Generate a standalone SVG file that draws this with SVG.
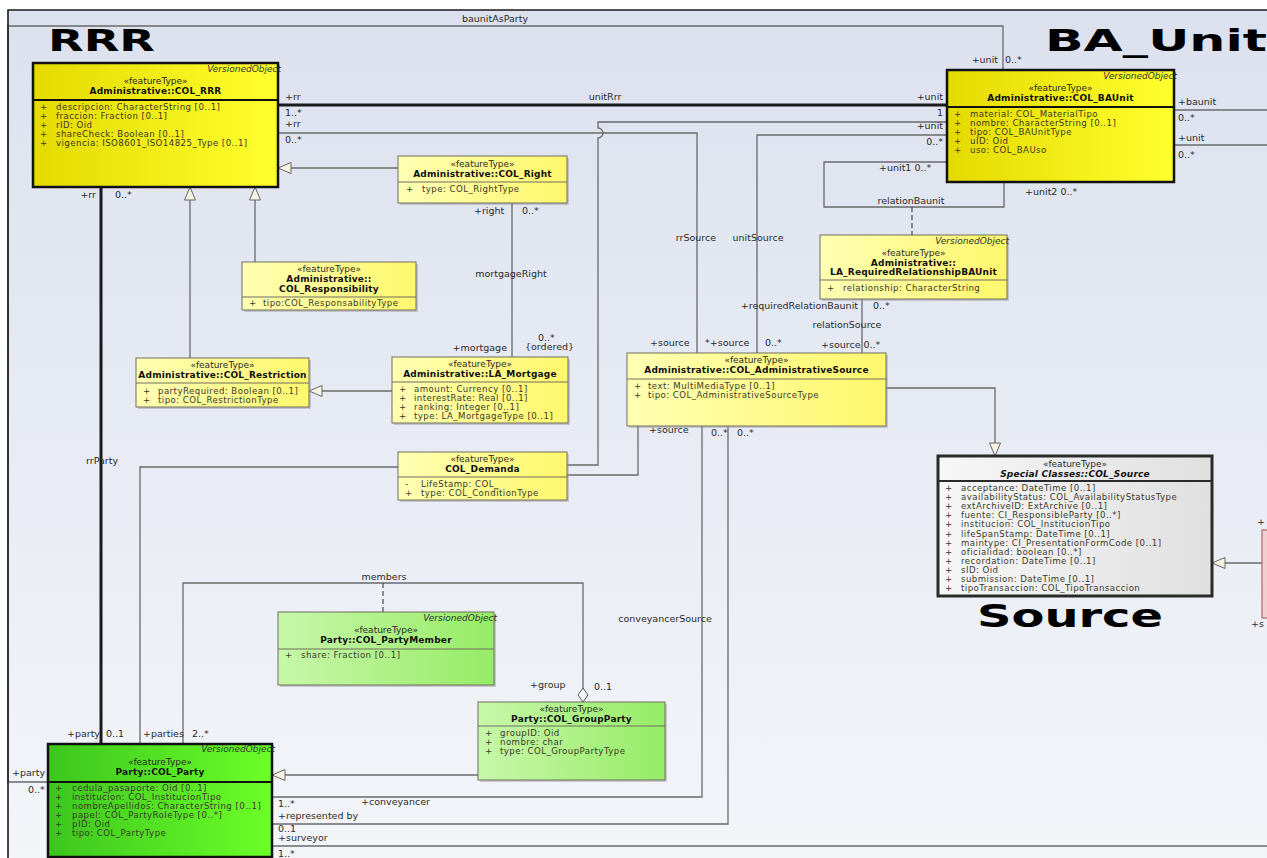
<svg xmlns="http://www.w3.org/2000/svg" width="1267" height="858" viewBox="0 0 1267 858">
<defs>
<linearGradient id="bg" x1="0" y1="0" x2="0" y2="1"><stop offset="0" stop-color="#dce1ee"/><stop offset="1" stop-color="#f3f5f9"/></linearGradient>
<linearGradient id="gY" x1="0" y1="0" x2="1" y2="0"><stop offset="0" stop-color="#e4da00"/><stop offset="1" stop-color="#ffff2e"/></linearGradient>
<linearGradient id="gLY" x1="0" y1="0" x2="1" y2="0"><stop offset="0" stop-color="#ffffb4"/><stop offset="1" stop-color="#fff76c"/></linearGradient>
<linearGradient id="gG" x1="0" y1="0" x2="1" y2="0"><stop offset="0" stop-color="#3cc61e"/><stop offset="1" stop-color="#6cff28"/></linearGradient>
<linearGradient id="gLG" x1="0" y1="0" x2="1" y2="0"><stop offset="0" stop-color="#c8f7aa"/><stop offset="1" stop-color="#96ec66"/></linearGradient>
<linearGradient id="gS" x1="0" y1="0" x2="1" y2="0"><stop offset="0" stop-color="#f7f7f7"/><stop offset="1" stop-color="#e0e0e0"/></linearGradient>
<marker id="gen" markerUnits="userSpaceOnUse" markerWidth="15" markerHeight="13" refX="14" refY="6.5" orient="auto"><path d="M1,1 L14,6.5 L1,12 Z" fill="#f6f2e2" stroke="#666" stroke-width="1"/></marker>
<marker id="agg" markerUnits="userSpaceOnUse" markerWidth="16" markerHeight="12" refX="15" refY="6" orient="auto"><path d="M1,6 L8,1 L15,6 L8,11 Z" fill="#f6f6f6" stroke="#555" stroke-width="1"/></marker>
<style>
.t{font-family:"DejaVu Sans","Liberation Sans",sans-serif;font-size:9.5px;fill:#2a2a2a}
.a{font-size:8.6px;letter-spacing:.45px;fill:#3a3a2a}
.b{font-weight:bold;font-size:9px;letter-spacing:.2px;fill:#111}
.s{font-size:9px}
.c{text-anchor:middle}
.e{text-anchor:end}
.vo{font-family:"DejaVu Sans","Liberation Sans",sans-serif;font-size:9px;font-style:italic;text-anchor:end;fill:#333}
.big{font-family:"DejaVu Sans","Liberation Sans",sans-serif;font-weight:bold;fill:#000}
.conn{fill:none;stroke:#6a6a6a;stroke-width:1.3}
.thick{fill:none;stroke:#1a1a1a;stroke-width:3}
.dash{fill:none;stroke:#555;stroke-width:1.3;stroke-dasharray:5,3}
.strong{stroke:#111;stroke-width:2.5}
.light{stroke:#6f6f5f;stroke-width:1}
.sh{fill:#9a9a9a;opacity:.45}
.divS{stroke:#111;stroke-width:2}
.divL{stroke:#6f6f5f;stroke-width:1}
</style>
</defs>

<rect x="0" y="0" width="1267" height="858" fill="#ffffff"/>
<rect x="8" y="10" width="1259" height="848" fill="url(#bg)"/>

<g id="titles">
<text class="big" x="48" y="51" font-size="30" textLength="107" lengthAdjust="spacingAndGlyphs">RRR</text>
<text class="big" x="1045" y="51" font-size="31" textLength="222" lengthAdjust="spacingAndGlyphs">BA_Unit</text>
<text class="big" x="977" y="627" font-size="32" textLength="186" lengthAdjust="spacingAndGlyphs">Source</text>
</g>

<g id="connectors">
<!-- baunitAsParty -->
<path class="conn" d="M1003,70 V26 H8 V782 H48"/>
<text class="t c" x="495" y="22">baunitAsParty</text>
<text class="t e" x="998" y="63">+unit</text>
<text class="t" x="1005" y="63">0..*</text>
<text class="t" x="12" y="776">+party</text>
<text class="t" x="28" y="793">0..*</text>

<!-- generalizations to RRR -->
<path class="conn" d="M398,168 H278" marker-end="url(#gen)"/>
<path class="conn" d="M255,262 V187" marker-end="url(#gen)"/>
<path class="conn" d="M190,358 V187" marker-end="url(#gen)"/>
<path class="conn" d="M392,391 H309" marker-end="url(#gen)"/>

<!-- mortgageRight -->
<path class="conn" d="M512,203 V357"/>
<text class="t" x="474" y="214">+right</text>
<text class="t" x="522" y="214">0..*</text>
<text class="t c" x="511" y="277">mortgageRight</text>
<text class="t e" x="507" y="351">+mortgage</text>
<text class="t" x="538" y="341">0..*</text>
<text class="t" x="525" y="350">{ordered}</text>

<!-- unitRrr -->
<path class="thick" d="M278,105 H947"/>
<text class="t c" x="605" y="100">unitRrr</text>
<text class="t" x="285" y="100">+rr</text>
<text class="t" x="285" y="116">1..*</text>
<text class="t e" x="943" y="100">+unit</text>
<text class="t e" x="943" y="116">1</text>

<!-- rrSource -->
<path class="conn" d="M278,133 H697 V353"/>
<text class="t" x="285" y="127">+rr</text>
<text class="t" x="285" y="143">0..*</text>
<text class="t c" x="696" y="241">rrSource</text>
<text class="t" x="650" y="346">+source</text>

<!-- Demanda to BAUnit -->
<path class="conn" d="M567,465 H598 V138 A5,5 0 0 0 598,128 V122 H947"/>
<text class="t e" x="943" y="129">+unit</text>

<!-- unitSource -->
<path class="conn" d="M947,135 H757 V353"/>
<text class="t e" x="943" y="145">0..*</text>
<text class="t c" x="758" y="241">unitSource</text>
<text class="t" x="705" y="346">*+source</text>
<text class="t" x="765" y="346">0..*</text>

<!-- relationBaunit -->
<path class="conn" d="M947,162 H824 V207 H1004 V182"/>
<path class="dash" d="M912,207 V235"/>
<text class="t" x="879" y="171">+unit1 0..*</text>
<text class="t" x="1025" y="195">+unit2 0..*</text>
<text class="t c" x="911" y="204">relationBaunit</text>

<!-- relationSource -->
<path class="conn" d="M862,299 V353"/>
<text class="t e" x="858" y="309">+requiredRelationBaunit</text>
<text class="t" x="873" y="309">0..*</text>
<text class="t c" x="847" y="328">relationSource</text>
<text class="t" x="821" y="348">+source 0..*</text>

<!-- AdministrativeSource generalization to COL_Source -->
<path class="conn" d="M886,388 H995 V456" marker-end="url(#gen)"/>

<!-- BAUnit right side -->
<path class="conn" d="M1174,110 H1267"/>
<path class="conn" d="M1174,145 H1267"/>
<text class="t" x="1178" y="105">+baunit</text>
<text class="t" x="1178" y="121">0..*</text>
<text class="t" x="1178" y="141">+unit</text>
<text class="t" x="1178" y="158">0..*</text>

<!-- Source to Demanda -->
<path class="conn" d="M638,426 V475 H567"/>
<text class="t" x="649" y="433">+source</text>
<text class="t" x="711" y="436">0..*</text>
<text class="t" x="737" y="436">0..*</text>

<!-- conveyancerSource -->
<path class="conn" d="M702,426 V797 H272"/>
<text class="t c" x="665" y="622">conveyancerSource</text>
<text class="t" x="278" y="807">1..*</text>
<text class="t" x="361" y="805">+conveyancer</text>

<!-- surveyor -->
<path class="conn" d="M728,426 V824 H272"/>
<text class="t" x="278" y="819">+represented by</text>
<text class="t" x="278" y="832">0..1</text>
<text class="t" x="278" y="841">+surveyor</text>

<path class="conn" d="M272,846 H1267"/>
<text class="t" x="278" y="857">1..*</text>

<!-- rrParty -->
<path class="thick" d="M101,187 V744"/>
<text class="t e" x="96" y="198">+rr</text>
<text class="t" x="115" y="198">0..*</text>
<text class="t c" x="102" y="464">rrParty</text>
<text class="t e" x="100" y="737">+party</text>
<text class="t" x="106" y="737">0..1</text>

<!-- Demanda to Party -->
<path class="conn" d="M398,467 H140 V744"/>

<!-- members -->
<path class="conn" d="M183,744 V583 H583 V702" marker-end="url(#agg)"/>
<path class="dash" d="M383,583 V612"/>
<text class="t c" x="384" y="580">members</text>
<text class="t" x="143" y="737">+parties</text>
<text class="t" x="192" y="737">2..*</text>
<text class="t" x="530" y="688">+group</text>
<text class="t" x="594" y="690">0..1</text>

<!-- GroupParty generalization -->
<path class="conn" d="M478,775 H272" marker-end="url(#gen)"/>

<!-- external box generalization to COL_Source -->
<path class="conn" d="M1262,563 H1212" marker-end="url(#gen)"/>
<text class="t" x="1257" y="525">+</text>
<text class="t" x="1251" y="627">+s</text>
</g>

<g id="col-rrr">
<rect x="33" y="63" width="245" height="124" class="strong" fill="url(#gY)"/>
<line x1="33" y1="100" x2="278" y2="100" class="divS"/>
<text class="vo" x="281" y="72">VersionedObject</text>
<text class="t s c" x="155.5" y="84">«featureType»</text>
<text class="t c b" x="155.5" y="94">Administrative::COL_RRR</text>
<text class="t a" x="40" y="110">+</text><text class="t a" x="56" y="110">descripcion: CharacterString [0..1]</text>
<text class="t a" x="40" y="119">+</text><text class="t a" x="56" y="119">fraccion: Fraction [0..1]</text>
<text class="t a" x="40" y="128">+</text><text class="t a" x="56" y="128">rID: Oid</text>
<text class="t a" x="40" y="137">+</text><text class="t a" x="56" y="137">shareCheck: Boolean [0..1]</text>
<text class="t a" x="40" y="146">+</text><text class="t a" x="56" y="146">vigencia: ISO8601_ISO14825_Type [0..1]</text>
</g>

<g id="col-baunit">
<rect x="947" y="70" width="227" height="112" class="strong" fill="url(#gY)"/>
<line x1="947" y1="107" x2="1174" y2="107" class="divS"/>
<text class="vo" x="1177" y="79">VersionedObject</text>
<text class="t s c" x="1060.5" y="91">«featureType»</text>
<text class="t c b" x="1060.5" y="101">Administrative::COL_BAUnit</text>
<text class="t a" x="954" y="117">+</text><text class="t a" x="970" y="117">material: COL_MaterialTipo</text>
<text class="t a" x="954" y="126">+</text><text class="t a" x="970" y="126">nombre: CharacterString [0..1]</text>
<text class="t a" x="954" y="135">+</text><text class="t a" x="970" y="135">tipo: COL_BAUnitType</text>
<text class="t a" x="954" y="144">+</text><text class="t a" x="970" y="144">uID: Oid</text>
<text class="t a" x="954" y="153">+</text><text class="t a" x="970" y="153">uso: COL_BAUso</text>
</g>

<g id="col-right">
<rect x="400" y="158" width="169" height="47" class="sh"/>
<rect x="398" y="156" width="169" height="47" class="light" fill="url(#gLY)"/>
<line x1="398" y1="182" x2="567" y2="182" class="divL"/>
<text class="t s c" x="482.5" y="167">«featureType»</text>
<text class="t c b" x="482.5" y="177">Administrative::COL_Right</text>
<text class="t a" x="406" y="192">+</text><text class="t a" x="422" y="192">type: COL_RightType</text>
</g>

<g id="col-responsibility">
<rect x="244" y="264" width="174" height="48" class="sh"/>
<rect x="242" y="262" width="174" height="48" class="light" fill="url(#gLY)"/>
<line x1="242" y1="297" x2="416" y2="297" class="divL"/>
<text class="t s c" x="329" y="272">«featureType»</text>
<text class="t c b" x="329" y="282">Administrative::</text>
<text class="t c b" x="329" y="292">COL_Responsibility</text>
<text class="t a" x="249" y="306">+</text><text class="t a" x="263" y="306">tipo:COL_ResponsabilityType</text>
</g>

<g id="col-restriction">
<rect x="138" y="360" width="173" height="49" class="sh"/>
<rect x="136" y="358" width="173" height="49" class="light" fill="url(#gLY)"/>
<line x1="136" y1="383" x2="309" y2="383" class="divL"/>
<text class="t s c" x="222.5" y="368">«featureType»</text>
<text class="t c b" x="222.5" y="378">Administrative::COL_Restriction</text>
<text class="t a" x="143" y="394">+</text><text class="t a" x="158" y="394">partyRequired: Boolean [0..1]</text>
<text class="t a" x="143" y="403">+</text><text class="t a" x="158" y="403">tipo: COL_RestrictionType</text>
</g>

<g id="la-mortgage">
<rect x="394" y="359" width="176" height="66" class="sh"/>
<rect x="392" y="357" width="176" height="66" class="light" fill="url(#gLY)"/>
<line x1="392" y1="382" x2="568" y2="382" class="divL"/>
<text class="t s c" x="480" y="367">«featureType»</text>
<text class="t c b" x="480" y="377">Administrative::LA_Mortgage</text>
<text class="t a" x="399" y="392">+</text><text class="t a" x="414" y="392">amount: Currency [0..1]</text>
<text class="t a" x="399" y="401">+</text><text class="t a" x="414" y="401">interestRate: Real [0..1]</text>
<text class="t a" x="399" y="410">+</text><text class="t a" x="414" y="410">ranking: Integer [0..1]</text>
<text class="t a" x="399" y="419">+</text><text class="t a" x="414" y="419">type: LA_MortgageType [0..1]</text>
</g>

<g id="col-demanda">
<rect x="400" y="454" width="169" height="48" class="sh"/>
<rect x="398" y="452" width="169" height="48" class="light" fill="url(#gLY)"/>
<line x1="398" y1="477" x2="567" y2="477" class="divL"/>
<text class="t s c" x="482.5" y="462">«featureType»</text>
<text class="t c b" x="482.5" y="472">COL_Demanda</text>
<text class="t a" x="405" y="487">-</text><text class="t a" x="421" y="487">LifeStamp: COL_</text>
<text class="t a" x="405" y="496">+</text><text class="t a" x="421" y="496">type: COL_ConditionType</text>
</g>

<g id="la-requiredrelationshipbaunit">
<rect x="822" y="237" width="187" height="64" class="sh"/>
<rect x="820" y="235" width="187" height="64" class="light" fill="url(#gLY)"/>
<line x1="820" y1="280" x2="1007" y2="280" class="divL"/>
<text class="vo" x="1009" y="244">VersionedObject</text>
<text class="t s c" x="913.5" y="256">«featureType»</text>
<text class="t c b" x="913.5" y="266">Administrative::</text>
<text class="t c b" x="913.5" y="275">LA_RequiredRelationshipBAUnit</text>
<text class="t a" x="827" y="291">+</text><text class="t a" x="843" y="291">relationship: CharacterString</text>
</g>

<g id="col-administrativesource">
<rect x="629" y="355" width="259" height="73" class="sh"/>
<rect x="627" y="353" width="259" height="73" class="light" fill="url(#gLY)"/>
<line x1="627" y1="379" x2="886" y2="379" class="divL"/>
<text class="t s c" x="756.5" y="363">«featureType»</text>
<text class="t c b" x="756.5" y="373">Administrative::COL_AdministrativeSource</text>
<text class="t a" x="634" y="389">+</text><text class="t a" x="648" y="389">text: MultiMediaType [0..1]</text>
<text class="t a" x="634" y="398">+</text><text class="t a" x="648" y="398">tipo: COL_AdministrativeSourceType</text>
</g>

<g id="col-source">
<rect x="938" y="456" width="274" height="140" stroke="#2a2a2a" stroke-width="3" fill="url(#gS)"/>
<line x1="938" y1="481" x2="1212" y2="481" stroke="#2a2a2a" stroke-width="2"/>
<text class="t s c" x="1075" y="467">«featureType»</text>
<text class="t c b" x="1075" y="477" font-style="italic">Special Classes::COL_Source</text>
<text class="t a" x="945" y="491">+</text><text class="t a" x="961" y="491">acceptance: DateTime [0..1]</text>
<text class="t a" x="945" y="500">+</text><text class="t a" x="961" y="500">availabilityStatus: COL_AvailabilityStatusType</text>
<text class="t a" x="945" y="509">+</text><text class="t a" x="961" y="509">extArchiveID: ExtArchive [0..1]</text>
<text class="t a" x="945" y="518">+</text><text class="t a" x="961" y="518">fuente: CI_ResponsibleParty [0..*]</text>
<text class="t a" x="945" y="527">+</text><text class="t a" x="961" y="527">institucion: COL_InstitucionTipo</text>
<text class="t a" x="945" y="537">+</text><text class="t a" x="961" y="537">lifeSpanStamp: DateTime [0..1]</text>
<text class="t a" x="945" y="546">+</text><text class="t a" x="961" y="546">maintype: CI_PresentationFormCode [0..1]</text>
<text class="t a" x="945" y="555">+</text><text class="t a" x="961" y="555">oficialidad: boolean [0..*]</text>
<text class="t a" x="945" y="564">+</text><text class="t a" x="961" y="564">recordation: DateTime [0..1]</text>
<text class="t a" x="945" y="573">+</text><text class="t a" x="961" y="573">sID: Oid</text>
<text class="t a" x="945" y="582">+</text><text class="t a" x="961" y="582">submission: DateTime [0..1]</text>
<text class="t a" x="945" y="591">+</text><text class="t a" x="961" y="591">tipoTransaccion: COL_TipoTransaccion</text>
</g>

<g id="external-box">
<rect x="1262" y="530" width="12" height="88" fill="#efcfcf" stroke="#a86868" stroke-width="1.2"/>
</g>

<g id="col-partymember">
<rect x="280" y="614" width="216" height="73" class="sh"/>
<rect x="278" y="612" width="216" height="73" class="light" fill="url(#gLG)"/>
<line x1="278" y1="649" x2="494" y2="649" class="divL"/>
<text class="vo" x="497" y="621">VersionedObject</text>
<text class="t s c" x="386" y="633">«featureType»</text>
<text class="t c b" x="386" y="643">Party::COL_PartyMember</text>
<text class="t a" x="285" y="658">+</text><text class="t a" x="301" y="658">share: Fraction [0..1]</text>
</g>

<g id="col-groupparty">
<rect x="480" y="704" width="187" height="78" class="sh"/>
<rect x="478" y="702" width="187" height="78" class="light" fill="url(#gLG)"/>
<line x1="478" y1="726" x2="665" y2="726" class="divL"/>
<text class="t s c" x="571.5" y="712">«featureType»</text>
<text class="t c b" x="571.5" y="722">Party::COL_GroupParty</text>
<text class="t a" x="485" y="736">+</text><text class="t a" x="500" y="736">groupID: Oid</text>
<text class="t a" x="485" y="745">+</text><text class="t a" x="500" y="745">nombre: char</text>
<text class="t a" x="485" y="754">+</text><text class="t a" x="500" y="754">type: COL_GroupPartyType</text>
</g>

<g id="col-party">
<rect x="48" y="744" width="224" height="113" class="strong" fill="url(#gG)"/>
<line x1="48" y1="782" x2="272" y2="782" class="divS"/>
<text class="vo" x="275" y="752">VersionedObject</text>
<text class="t s c" x="160" y="765">«featureType»</text>
<text class="t c b" x="160" y="775">Party::COL_Party</text>
<text class="t a" x="55" y="791">+</text><text class="t a" x="72" y="791">cedula_pasaporte: Oid [0..1]</text>
<text class="t a" x="55" y="800">+</text><text class="t a" x="72" y="800">institucion: COL_InstitucionTipo</text>
<text class="t a" x="55" y="809">+</text><text class="t a" x="72" y="809">nombreApellidos: CharacterString [0..1]</text>
<text class="t a" x="55" y="818">+</text><text class="t a" x="72" y="818">papel: COL_PartyRoleType [0..*]</text>
<text class="t a" x="55" y="827">+</text><text class="t a" x="72" y="827">pID: Oid</text>
<text class="t a" x="55" y="836">+</text><text class="t a" x="72" y="836">tipo: COL_PartyType</text>
</g>

<path d="M8,858 V10 H1267" fill="none" stroke="#1a1a1a" stroke-width="1.6"/>
</svg>
